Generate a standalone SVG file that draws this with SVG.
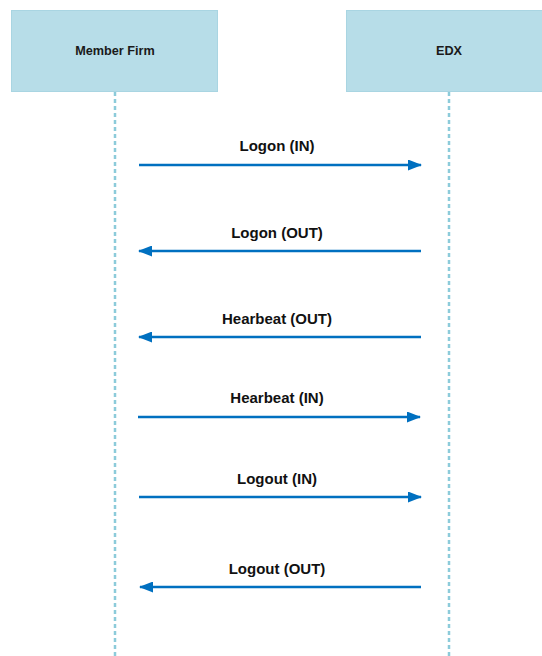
<svg xmlns="http://www.w3.org/2000/svg" width="542" height="656" viewBox="0 0 542 656">
<defs>
<style>
.box{fill:#b7dde8;stroke:#a9d5e2;stroke-width:1}
.life{stroke:#8ccbda;stroke-width:2.5;stroke-dasharray:4 3;fill:none}
.msg{stroke:#0070c0;stroke-width:2.5;fill:none}
.nt{font-family:"Liberation Sans",Arial,sans-serif;font-weight:bold;font-size:12.7px;fill:#1a1a1a;text-anchor:middle}
.lt{font-family:"Liberation Sans",Arial,sans-serif;font-weight:bold;font-size:15px;fill:#111;text-anchor:middle}
</style>
<marker id="ah" viewBox="0 0 14 11" refX="13" refY="5.5" markerWidth="14" markerHeight="11" markerUnits="userSpaceOnUse" orient="auto">
<path d="M0,0 L14,5.5 L0,11 z" fill="#0070c0"/>
</marker>
</defs>
<rect width="542" height="656" fill="#ffffff"/>
<g id="lifelines">
<line class="life" x1="115" y1="92" x2="115" y2="656"/>
<line class="life" x1="449" y1="92" x2="449" y2="656"/>
</g>
<g id="member-firm">
<rect class="box" x="11.5" y="10.5" width="206" height="81"/>
<text class="nt" x="115" y="55">Member Firm</text>
</g>
<g id="edx">
<rect class="box" x="346.5" y="10.5" width="200" height="81"/>
<text class="nt" x="449" y="55">EDX</text>
</g>
<g id="connectors">
<line class="msg" x1="139" y1="165" x2="421" y2="165" marker-end="url(#ah)"/>
<line class="msg" x1="421" y1="251" x2="139" y2="251" marker-end="url(#ah)"/>
<line class="msg" x1="421" y1="337" x2="139" y2="337" marker-end="url(#ah)"/>
<line class="msg" x1="138" y1="417" x2="420" y2="417" marker-end="url(#ah)"/>
<line class="msg" x1="139" y1="497" x2="421" y2="497" marker-end="url(#ah)"/>
<line class="msg" x1="421" y1="587" x2="140" y2="587" marker-end="url(#ah)"/>
<text class="lt" x="277" y="151">Logon (IN)</text>
<text class="lt" x="277" y="238">Logon (OUT)</text>
<text class="lt" x="277" y="324">Hearbeat (OUT)</text>
<text class="lt" x="277" y="403">Hearbeat (IN)</text>
<text class="lt" x="277" y="484">Logout (IN)</text>
<text class="lt" x="277" y="574">Logout (OUT)</text>
</g>
</svg>
